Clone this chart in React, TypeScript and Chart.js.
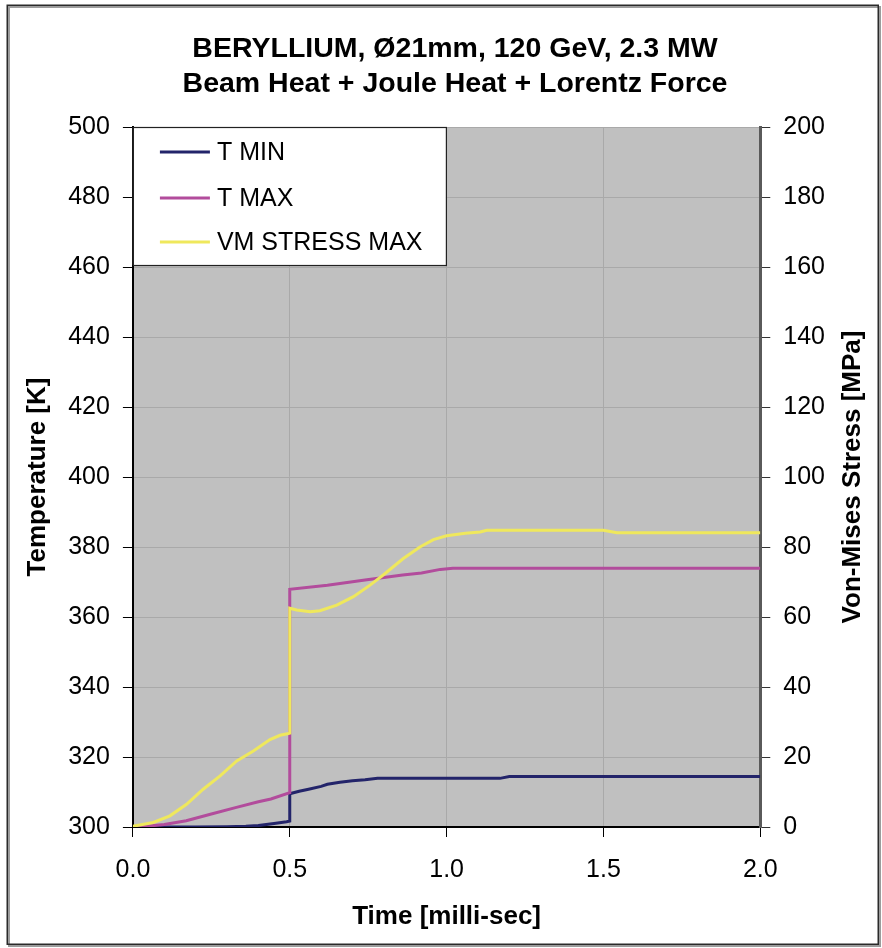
import { useEffect, useRef } from "react";
import { Chart, registerables } from "chart.js";

Chart.register(...registerables);

const FONT = "'Liberation Sans', Arial, Helvetica, sans-serif";

const TITLE_LINES = ["BERYLLIUM, Ø21mm, 120 GeV, 2.3 MW", "Beam Heat + Joule Heat + Lorentz Force"];
const X_TITLE = "Time [milli-sec]";
const Y_LEFT_TITLE = "Temperature [K]";
const Y_RIGHT_TITLE = "Von-Mises Stress [MPa]";
const SERIES_LABELS = ["T MIN", "T MAX", "VM STRESS MAX"];
const SERIES_COLORS = ["#23246a", "#b24c9c", "#efe85c"];

// T MIN [K]
const tMinTime = [0, 0.1, 0.2, 0.3, 0.36, 0.4, 0.45, 0.49, 0.5, 0.5, 0.53, 0.56, 0.6, 0.62, 0.66, 0.7, 0.74, 0.78, 0.9, 1.0, 1.17, 1.2, 1.5, 2.0];
const tMinValue = [300, 300, 300, 300.1, 300.2, 300.4, 301, 301.5, 301.7, 309.5, 310.2, 310.8, 311.6, 312.2, 312.8, 313.2, 313.5, 313.9, 313.9, 313.9, 313.9, 314.4, 314.4, 314.4];

// T MAX [K]
const tMaxTime = [0, 0.04, 0.1, 0.17, 0.25, 0.33, 0.4, 0.44, 0.5, 0.5, 0.62, 0.74, 0.86, 0.92, 0.98, 1.02, 1.5, 2.0];
const tMaxValue = [300, 300.2, 300.7, 301.8, 303.7, 305.6, 307.2, 308.0, 309.8, 367.9, 369.1, 370.6, 372.0, 372.6, 373.6, 373.9, 373.9, 373.9];

// VM STRESS MAX [MPa]
const vmTime = [0, 0.065, 0.118, 0.171, 0.224, 0.278, 0.331, 0.384, 0.437, 0.469, 0.496, 0.5, 0.5, 0.522, 0.565, 0.596, 0.65, 0.703, 0.756, 0.798, 0.862, 0.915, 0.958, 1.0, 1.06, 1.107, 1.128, 1.5, 1.543, 2.0];
const vmValue = [0.2, 1.3, 3.2, 6.5, 10.8, 14.6, 18.9, 21.7, 25.0, 26.2, 26.7, 26.8, 62.5, 62.0, 61.5, 61.8, 63.4, 65.8, 69.1, 72.0, 76.7, 80.0, 82.1, 83.2, 83.9, 84.3, 84.8, 84.8, 84.1, 84.1];

const X_MIN = 0, X_MAX = 2, X_STEP = 0.5;
const YL_MIN = 300, YL_MAX = 500, YL_STEP = 20;
const YR_MIN = 0, YR_MAX = 200, YR_STEP = 20;

const pts = (xs: number[], ys: number[]) => xs.map((x, i) => ({ x, y: ys[i] }));

const decorPlugin = {
  id: "decor",
  beforeDraw(chart: any) {
    const { ctx, chartArea: a, width, height } = chart;
    ctx.save();
    ctx.fillStyle = "#ffffff";
    ctx.fillRect(0, 0, width, height);
    // frame shadow + frame
    ctx.strokeStyle = "#9c9c9c";
    ctx.lineWidth = 2;
    ctx.strokeRect(9, 7, 871, 939);
    ctx.strokeStyle = "#2a2a2a";
    ctx.lineWidth = 1.5;
    ctx.strokeRect(7.25, 5.25, 871, 939);
    // plot background
    ctx.fillStyle = "#c0c0c0";
    ctx.fillRect(a.left, a.top, a.right - a.left, a.bottom - a.top);
    ctx.restore();
  },
  afterDraw(chart: any) {
    const { ctx, chartArea: a } = chart;
    ctx.save();
    // chart title
    ctx.fillStyle = "#000";
    ctx.font = `bold 28.5px ${FONT}`;
    ctx.textAlign = "center";
    ctx.textBaseline = "alphabetic";
    ctx.fillText(TITLE_LINES[0], 455, 56.5);
    ctx.fillText(TITLE_LINES[1], 455, 92);
    // legend box
    const bx = a.left, by = a.top, bw = 313, bh = 138;
    ctx.fillStyle = "#ffffff";
    ctx.fillRect(bx, by, bw, bh);
    ctx.strokeStyle = "#222";
    ctx.lineWidth = 1.2;
    ctx.strokeRect(bx + 0.5, by + 0.5, bw, bh);
    ctx.font = `25px ${FONT}`;
    ctx.textBaseline = "middle";
    ctx.textAlign = "left";
    const rows = [25, 71, 115];
    chart.data.datasets.forEach((ds: any, i: number) => {
      const y = by + rows[i];
      ctx.strokeStyle = ds.borderColor;
      ctx.lineWidth = 3;
      ctx.beginPath();
      ctx.moveTo(bx + 27, y);
      ctx.lineTo(bx + 77, y);
      ctx.stroke();
      ctx.fillStyle = "#000";
      ctx.fillText(ds.label, bx + 84, y + 1);
    });
    // right axis title (reads bottom-to-top)
    ctx.translate(853, (a.top + a.bottom) / 2);
    ctx.rotate(-Math.PI / 2);
    ctx.font = `bold 26px ${FONT}`;
    ctx.textAlign = "center";
    ctx.fillStyle = "#000";
    ctx.fillText(Y_RIGHT_TITLE, 0, 0);
    ctx.restore();
  },
};

export default function App() {
  const ref = useRef<HTMLCanvasElement>(null);
  useEffect(() => {
    if (!ref.current) return;
    const chart = new Chart(ref.current, {
      type: "line",
      data: {
        datasets: [
          { label: SERIES_LABELS[0], data: pts(tMinTime, tMinValue), borderColor: SERIES_COLORS[0], yAxisID: "y", order: 2 },
          { label: SERIES_LABELS[1], data: pts(tMaxTime, tMaxValue), borderColor: SERIES_COLORS[1], yAxisID: "y", order: 1 },
          { label: SERIES_LABELS[2], data: pts(vmTime, vmValue), borderColor: SERIES_COLORS[2], yAxisID: "y2", order: 0 },
        ].map((d) => ({ ...d, borderWidth: 3, pointRadius: 0, tension: 0, fill: false })),
      },
      options: {
        animation: false,
        responsive: false,
        maintainAspectRatio: false,
        layout: { padding: { left: 14, right: 44, top: 127, bottom: 12 } },
        plugins: {
          legend: { display: false },
          tooltip: { enabled: false },
          title: { display: false },
        },
        scales: {
          x: {
            type: "linear",
            min: X_MIN,
            max: X_MAX,
            ticks: {
              stepSize: X_STEP,
              color: "#000",
              font: { family: FONT, size: 25, lineHeight: 0.84 },
              padding: 23,
              callback: (v: any) => Number(v).toFixed(1),
            },
            grid: { color: "#a9a9a9", lineWidth: 1, tickLength: 10, tickColor: "#000" },
            border: { color: "#000", width: 2 },
            title: {
              display: true,
              text: X_TITLE,
              color: "#000",
              font: { family: FONT, size: 26, weight: "bold", lineHeight: 1.0 },
              padding: { top: 0, bottom: 6 },
            },
          },
          y: {
            type: "linear",
            position: "left",
            min: YL_MIN,
            max: YL_MAX,
            ticks: { stepSize: YL_STEP, color: "#000", font: { family: FONT, size: 25 }, padding: 13 },
            grid: { color: "#a9a9a9", lineWidth: 1, tickLength: 10, tickColor: "#000" },
            border: { color: "#000", width: 2 },
            title: {
              display: true,
              text: Y_LEFT_TITLE,
              color: "#000",
              font: { family: FONT, size: 26, weight: "bold" },
              padding: { top: 8, bottom: 2 },
            },
          },
          y2: {
            type: "linear",
            position: "right",
            min: YR_MIN,
            max: YR_MAX,
            ticks: { stepSize: YR_STEP, color: "#000", font: { family: FONT, size: 25 }, padding: 13 },
            grid: { drawOnChartArea: false, tickLength: 10, tickColor: "#333" },
            border: { color: "#5a5a5a", width: 3 },
          },
        },
      },
      plugins: [decorPlugin],
    } as any);
    return () => chart.destroy();
  }, []);
  return (
    <div style={{ position: "absolute", left: 0, top: 0, width: 882, height: 948 }}>
      <canvas ref={ref} width={882} height={948} style={{ width: 882, height: 948, display: "block" }} />
    </div>
  );
}
